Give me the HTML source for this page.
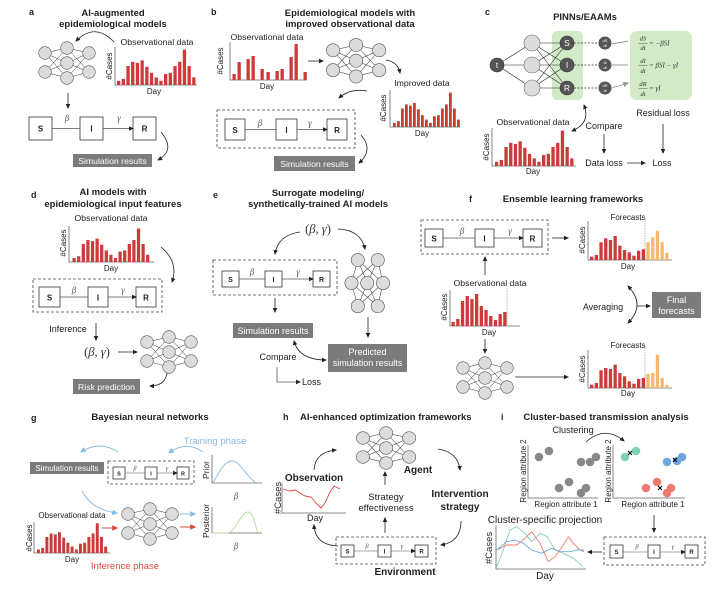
<!DOCTYPE html>
<html><head><meta charset="utf-8"><style>
html,body{margin:0;padding:0;background:#fff}
svg{display:block}
text{font-family:"Liberation Sans",Arial,sans-serif;fill:#222}
.t{font-size:9.5px;font-weight:bold;text-anchor:middle}
.l{font-size:9px;font-weight:bold}
.n{font-size:8.7px}
.m{text-anchor:middle}
.s{font-size:8px}
.g{fill:#fff;font-size:8.7px;text-anchor:middle}
.ax{stroke:#666;stroke-width:.8;fill:none}
.ar{stroke:#222;stroke-width:.8;fill:none;marker-end:url(#ah)}
.ar2{stroke:#222;stroke-width:.8;fill:none;marker-end:url(#ah);marker-start:url(#ah)}
.la{stroke:#555;stroke-width:.8;fill:none;marker-end:url(#ah)}
.bx{fill:#fff;stroke:#333;stroke-width:.8}
.db{fill:none;stroke:#444;stroke-width:.8;stroke-dasharray:3 2}
.gb{fill:#7b7b7b}
.sir{font-size:8px;font-weight:bold;text-anchor:middle}
.gr{font-family:"Liberation Serif",serif;font-style:italic;font-size:9px;fill:#555;text-anchor:middle}
.eq{font-family:"Liberation Serif",serif;font-style:italic;font-size:6.5px;fill:#333}
.b{font-weight:bold}
</style></head><body>
<svg width="719" height="592" viewBox="0 0 719 592" xmlns="http://www.w3.org/2000/svg">
<defs>
<marker id="ah" viewBox="0 0 10 10" refX="8" refY="5" markerWidth="5" markerHeight="5" markerUnits="userSpaceOnUse" orient="auto-start-reverse"><path d="M0,0.5 L10,5 L0,9.5 z" fill="#222"/></marker>
<marker id="ahb" viewBox="0 0 10 10" refX="8" refY="5" markerWidth="6" markerHeight="6" markerUnits="userSpaceOnUse" orient="auto"><path d="M0,0.5 L10,5 L0,9.5 z" fill="#8bbbe0"/></marker>
<marker id="ahr" viewBox="0 0 10 10" refX="8" refY="5" markerWidth="6" markerHeight="6" markerUnits="userSpaceOnUse" orient="auto"><path d="M0,0.5 L10,5 L0,9.5 z" fill="#d9463f"/></marker>
<marker id="ahg" viewBox="0 0 10 10" refX="8" refY="5" markerWidth="6" markerHeight="6" markerUnits="userSpaceOnUse" orient="auto"><path d="M0,0.5 L10,5 L0,9.5 z" fill="#999"/></marker>
<g id="bA" fill="#cc3a3a">
<rect x="0" y="-.11" width=".7" height=".11"/><rect x="1" y="-.16" width=".7" height=".16"/><rect x="2" y="-.5" width=".7" height=".5"/><rect x="3" y="-.61" width=".7" height=".61"/><rect x="4" y="-.58" width=".7" height=".58"/><rect x="5" y="-.65" width=".7" height=".65"/><rect x="6" y="-.48" width=".7" height=".48"/><rect x="7" y="-.32" width=".7" height=".32"/><rect x="8" y="-.2" width=".7" height=".2"/><rect x="9" y="-.11" width=".7" height=".11"/><rect x="10" y="-.29" width=".7" height=".29"/><rect x="11" y="-.32" width=".7" height=".32"/><rect x="12" y="-.5" width=".7" height=".5"/><rect x="13" y="-.61" width=".7" height=".61"/><rect x="14" y="-.93" width=".7" height=".93"/><rect x="15" y="-.5" width=".7" height=".5"/><rect x="16" y="-.2" width=".7" height=".2"/>
</g>
<g id="nn">
<path d="M0,5L22,0M0,5L22,15M0,5L22,30M0,24L22,0M0,24L22,15M0,24L22,30M22,0L44,5M22,0L44,24M22,15L44,5M22,15L44,24M22,30L44,5M22,30L44,24" stroke="#333" stroke-width=".5" fill="none"/>
<g fill="#dcdcdc" stroke="#555" stroke-width=".6">
<circle cx="0" cy="5" r="6.3"/><circle cx="0" cy="24" r="6.3"/><circle cx="22" cy="0" r="6.3"/><circle cx="22" cy="15" r="6.3"/><circle cx="22" cy="30" r="6.3"/><circle cx="44" cy="5" r="6.3"/><circle cx="44" cy="24" r="6.3"/>
</g></g>
</defs>

<!-- ===== Panel a ===== -->
<text x="29" y="15" class="l">a</text>
<text x="113" y="16" class="t">AI-augmented</text>
<text x="113" y="27" class="t">epidemiological models</text>
<path class="ar" d="M114,42 Q95,22 76,41"/>
<text x="157" y="45" class="n m">Observational data</text>
<use href="#nn" transform="translate(45,48)"/>
<path class="ax" d="M115,47 V85 H197"/>
<use href="#bA" transform="translate(117,85) scale(4.7,38)"/>
<text transform="translate(112,66) rotate(-90)" class="s m">#Cases</text>
<text x="154" y="94" class="s m">Day</text>
<path class="ar" d="M68,93 V108"/>
<rect class="bx" x="29" y="117" width="23" height="23"/><text x="40.5" y="131.5" class="sir">S</text>
<rect class="bx" x="80" y="117" width="23" height="23"/><text x="91.5" y="131.5" class="sir">I</text>
<rect class="bx" x="133" y="117" width="23" height="23"/><text x="144.5" y="131.5" class="sir">R</text>
<path class="la" d="M52,128.5 H80 M103,128.5 H133"/>
<text x="67" y="121" class="gr">β</text><text x="119" y="121" class="gr">γ</text>
<path class="ar" d="M161,132 Q176,150 158,160"/>
<rect class="gb" x="73" y="154" width="79" height="13"/>
<text x="112.5" y="164" class="g">Simulation results</text>

<!-- ===== Panel b ===== -->
<text x="211" y="15" class="l">b</text>
<text x="350" y="16" class="t">Epidemiological models with</text>
<text x="350" y="27" class="t">improved observational data</text>
<text x="267" y="40" class="n m">Observational data</text>
<path class="ax" d="M230,42 V80 H307"/>
<g fill="#cc3a3a">
<rect x="232.5" y="74" width="3.3" height="6"/><rect x="237.5" y="62" width="3.3" height="18"/><rect x="246.5" y="59" width="3.3" height="21"/><rect x="251.5" y="56" width="3.3" height="24"/><rect x="260.5" y="69" width="3.3" height="11"/><rect x="266.5" y="72" width="3.3" height="8"/><rect x="275.5" y="71" width="3.3" height="9"/><rect x="280.5" y="69" width="3.3" height="11"/><rect x="289.5" y="57" width="3.3" height="23"/><rect x="294.5" y="44" width="3.3" height="36"/><rect x="303.5" y="72" width="3.3" height="8"/>
</g>
<text transform="translate(223,61) rotate(-90)" class="s m">#Cases</text>
<text x="267" y="89" class="s m">Day</text>
<path class="ar" d="M308,61 H323"/>
<use href="#nn" transform="translate(333,45) scale(1.05)"/>
<path class="ar" d="M386,60 Q398,62 400,73"/>
<text x="422" y="86" class="n m">Improved data</text>
<path class="ax" d="M390,90 V127 H460"/>
<use href="#bA" transform="translate(393,127) scale(4,37)"/>
<text transform="translate(386,108) rotate(-90)" class="s m">#Cases</text>
<text x="422" y="136" class="s m">Day</text>
<path class="ar" d="M367,91 Q350,88 339,98"/>
<rect class="db" x="217" y="110" width="138" height="38"/>
<rect class="bx" x="225" y="119" width="20" height="21"/><text x="235" y="133" class="sir">S</text>
<rect class="bx" x="276" y="119" width="21" height="21"/><text x="286.5" y="133" class="sir">I</text>
<rect class="bx" x="327" y="119" width="20" height="21"/><text x="337" y="133" class="sir">R</text>
<path class="la" d="M245,129.5 H276 M297,129.5 H327"/>
<text x="260" y="126" class="gr">β</text><text x="310" y="126" class="gr">γ</text>
<path class="ar" d="M361,135 Q374,150 359,163"/>
<rect class="gb" x="274" y="156" width="81" height="15"/>
<text x="314.5" y="167" class="g">Simulation results</text>

<!-- ===== Panel c ===== -->
<text x="485" y="15" class="l">c</text>
<text x="585" y="20" class="t">PINNs/EAAMs</text>
<rect x="552" y="31" width="31" height="69" rx="5" fill="#d2eac6"/>
<rect x="630" y="31" width="62" height="69" rx="7" fill="#d2eac6"/>
<path d="M497,65L532,43M497,65L532,65M497,65L532,88M532,43L567,43M532,43L567,65M532,43L567,88M532,65L567,43M532,65L567,65M532,65L567,88M532,88L567,43M532,88L567,65M532,88L567,88" stroke="#222" stroke-width=".6" fill="none"/>
<circle cx="497" cy="65" r="7" fill="#555" stroke="#333" stroke-width=".6"/>
<text x="497" y="68" class="m" style="fill:#fff;font-size:8px">t</text>
<g fill="#dcdcdc" stroke="#666" stroke-width=".6"><circle cx="532" cy="43" r="8"/><circle cx="532" cy="65" r="8"/><circle cx="532" cy="88" r="8"/></g>
<g fill="#555" stroke="#333" stroke-width=".6"><circle cx="567" cy="43" r="7"/><circle cx="567" cy="65" r="7"/><circle cx="567" cy="88" r="7"/></g>
<text x="567" y="46" class="m" style="fill:#fff;font-size:8.5px">S</text>
<text x="567" y="68" class="m" style="fill:#fff;font-size:8.5px">I</text>
<text x="567" y="91" class="m" style="fill:#fff;font-size:8.5px">R</text>
<path d="M574,43 H598 M574,65 H598 M574,88 H598" stroke="#333" stroke-width=".8" stroke-dasharray="2 1.5"/>
<g fill="#555"><circle cx="605" cy="43" r="6.5"/><circle cx="605" cy="65" r="6.5"/><circle cx="605" cy="88" r="6.5"/></g>
<g style="font-size:4px" class="m">
<text x="605" y="42" style="fill:#fff;font-size:4px" text-anchor="middle">dS</text><text x="605" y="47" style="fill:#fff;font-size:4px" text-anchor="middle">dt</text>
<text x="605" y="64" style="fill:#fff;font-size:4px" text-anchor="middle">dI</text><text x="605" y="69" style="fill:#fff;font-size:4px" text-anchor="middle">dt</text>
<text x="605" y="87" style="fill:#fff;font-size:4px" text-anchor="middle">dR</text><text x="605" y="92" style="fill:#fff;font-size:4px" text-anchor="middle">dt</text>
</g>
<path d="M612,44 L628,41 M612,65 L628,65 M612,88 L628,83" stroke="#999" stroke-width=".9" fill="none" marker-end="url(#ahg)"/>
<text x="643" y="40.5" class="eq" text-anchor="middle">dS</text><path d="M638.5,43.5 H647.5" stroke="#333" stroke-width=".4"/><text x="643" y="50" class="eq" text-anchor="middle">dt</text>
<text x="649" y="45.5" class="eq" style="font-size:7px">= −βSI</text>
<text x="643" y="63" class="eq" text-anchor="middle">dI</text><path d="M638.5,65.5 H647.5" stroke="#333" stroke-width=".4"/><text x="643" y="73" class="eq" text-anchor="middle">dt</text>
<text x="649" y="67.5" class="eq" style="font-size:7px">= βSI − γI</text>
<text x="643" y="86" class="eq" text-anchor="middle">dR</text><path d="M638.5,88.5 H647.5" stroke="#333" stroke-width=".4"/><text x="643" y="96" class="eq" text-anchor="middle">dt</text>
<text x="649" y="90.5" class="eq" style="font-size:7px">= γI</text>
<text x="663" y="116" class="n m" style="font-size:9px">Residual loss</text>
<path class="ar2" d="M584,105 Q591,123 572,131"/>
<text x="533" y="125" class="n m">Observational data</text>
<text x="604" y="129" class="n m" style="font-size:9px">Compare</text>
<path class="ar" d="M604,134 V153"/>
<path class="ar" d="M663,124 V153"/>
<path class="ax" d="M492,128 V166 H576"/>
<use href="#bA" transform="translate(495,166) scale(4.7,38)"/>
<text transform="translate(489,147) rotate(-90)" class="s m">#Cases</text>
<text x="533" y="174" class="s m">Day</text>
<text x="604" y="166" class="n m" style="font-size:9px">Data loss</text>
<path class="ar" d="M627,163 H645"/>
<text x="662" y="166" class="n m" style="font-size:9px">Loss</text>

<!-- ===== Panel d ===== -->
<text x="31" y="198" class="l">d</text>
<text x="113" y="195" class="t">AI models with</text>
<text x="113" y="207" class="t">epidemiological input features</text>
<text x="111" y="221" class="n m">Observational data</text>
<path class="ax" d="M69,226 V262 H154"/>
<use href="#bA" transform="translate(72.5,262) scale(4.6,36)"/>
<text transform="translate(66,243) rotate(-90)" class="s m">#Cases</text>
<text x="111" y="271" class="s m">Day</text>
<path class="ar" d="M161,247 Q179,262 172,282"/>
<rect class="db" x="33" y="279" width="129" height="33"/>
<rect class="bx" x="39" y="287" width="21" height="20"/><text x="49.5" y="300.5" class="sir">S</text>
<rect class="bx" x="88" y="287" width="20" height="20"/><text x="98" y="300.5" class="sir">I</text>
<rect class="bx" x="136" y="287" width="20" height="20"/><text x="146" y="300.5" class="sir">R</text>
<path class="la" d="M60,297 H88 M108,297 H136"/>
<text x="74" y="293" class="gr">β</text><text x="123" y="293" class="gr">γ</text>
<text x="68" y="332" class="n m" style="font-size:9px">Inference</text>
<path class="ar" d="M96,323 V340"/>
<text x="97" y="356" class="m" style="font-family:'Liberation Serif',serif;font-size:12.5px;fill:#333">(<tspan font-style="italic">β</tspan>, <tspan font-style="italic">γ</tspan>)</text>
<path class="ar" d="M118,352 H137"/>
<use href="#nn" transform="translate(147,337)"/>
<path class="ar" d="M167,373 Q165,386 150,386"/>
<rect class="gb" x="73" y="379" width="67" height="15"/>
<text x="106.5" y="390" class="g">Risk prediction</text>

<!-- ===== Panel e ===== -->
<text x="213" y="198" class="l">e</text>
<text x="318" y="196" class="t">Surrogate modeling/</text>
<text x="318" y="207" class="t">synthetically-trained AI models</text>
<text x="318" y="233" class="m" style="font-family:'Liberation Serif',serif;font-size:12.5px;fill:#333">(<tspan font-style="italic">β</tspan>, <tspan font-style="italic">γ</tspan>)</text>
<path class="ar" d="M300,232 Q278,235 275,254"/>
<path class="ar" d="M338,229 Q361,230 365,249"/>
<rect class="db" x="213" y="260" width="124" height="35"/>
<rect class="bx" x="222" y="271" width="17" height="16"/><text x="230.5" y="282" class="sir" style="font-size:7px">S</text>
<rect class="bx" x="265" y="271" width="17" height="16"/><text x="273.5" y="282" class="sir" style="font-size:7px">I</text>
<rect class="bx" x="313" y="271" width="17" height="16"/><text x="321.5" y="282" class="sir" style="font-size:7px">R</text>
<path class="la" d="M239,279 H265 M282,279 H313"/>
<text x="252" y="275" class="gr">β</text><text x="298" y="275" class="gr">γ</text>
<use href="#nn" transform="translate(383,260) rotate(90) scale(1.05,1.05)"/>
<path class="ar" d="M275,298 V312"/>
<rect class="gb" x="233" y="323" width="80" height="15"/>
<text x="273" y="334" class="g" style="font-size:9px">Simulation results</text>
<path class="ar" d="M368,317 V337"/>
<rect class="gb" x="328" y="344" width="79" height="28"/>
<text x="367.5" y="355" class="g" style="font-size:9px">Predicted</text>
<text x="367.5" y="366" class="g" style="font-size:9px">simulation results</text>
<path class="ar2" d="M294,341 Q299,360 326,360"/>
<text x="278" y="360" class="n m" style="font-size:9px">Compare</text>
<path class="ar" d="M277,367 V382 H300" style="stroke:#555"/>
<text x="302" y="385" class="n" style="font-size:9px">Loss</text>

<!-- ===== Panel f ===== -->
<text x="469" y="202" class="l">f</text>
<text x="573" y="202" class="t">Ensemble learning frameworks</text>
<rect class="db" x="421" y="220" width="127" height="34"/>
<rect class="bx" x="425" y="229" width="18" height="18"/><text x="434" y="241.5" class="sir">S</text>
<rect class="bx" x="475" y="229" width="19" height="18"/><text x="484.5" y="241.5" class="sir">I</text>
<rect class="bx" x="523" y="229" width="19" height="18"/><text x="532.5" y="241.5" class="sir">R</text>
<path class="la" d="M443,238 H475 M494,238 H523"/>
<text x="462" y="234" class="gr">β</text><text x="510" y="234" class="gr">γ</text>
<path class="ar" d="M552,238 H568"/>
<text x="628" y="220" class="s m">Forecasts</text>
<path class="ax" d="M588,221 V260 H672"/>
<path d="M645,218 V260" stroke="#999" stroke-width=".7" stroke-dasharray="1.5 1"/>
<g fill="#cc3a3a">
<rect x="590" y="256.7" width="3.3" height="3.3"/><rect x="594.7" y="255" width="3.3" height="5"/><rect x="599.4" y="242.3" width="3.3" height="17.7"/><rect x="604.1" y="238.3" width="3.3" height="21.7"/><rect x="608.8" y="240" width="3.3" height="20"/><rect x="613.5" y="236" width="3.3" height="24"/><rect x="618.2" y="245.7" width="3.3" height="14.3"/><rect x="622.9" y="250" width="3.3" height="10"/><rect x="627.6" y="252.3" width="3.3" height="7.7"/><rect x="632.3" y="255.7" width="3.3" height="4.3"/><rect x="637" y="250.7" width="3.3" height="9.3"/><rect x="641.7" y="249.3" width="3.3" height="10.7"/>
</g>
<g fill="#f6b96b">
<rect x="646.4" y="242.3" width="3.3" height="17.7"/><rect x="651.1" y="237.3" width="3.3" height="22.7"/><rect x="655.8" y="230.7" width="3.3" height="29.3"/><rect x="660.5" y="242.3" width="3.3" height="17.7"/><rect x="665.2" y="252.7" width="3.3" height="7.3"/>
</g>
<text transform="translate(585,240) rotate(-90)" class="s m">#Cases</text>
<text x="628" y="269" class="s m">Day</text>
<path class="ar" d="M485,275 V257"/>
<text x="490" y="286" class="n m">Observational data</text>
<path class="ax" d="M450,290 V326 H520"/>
<path d="M507,288 V326" stroke="#999" stroke-width=".7" stroke-dasharray="1.5 1"/>
<g fill="#cc3a3a">
<rect x="451.5" y="322" width="3.3" height="4"/><rect x="456.2" y="319" width="3.3" height="7"/><rect x="460.9" y="301" width="3.3" height="25"/><rect x="465.6" y="296" width="3.3" height="30"/><rect x="470.3" y="299" width="3.3" height="27"/><rect x="475" y="294" width="3.3" height="32"/><rect x="479.7" y="306" width="3.3" height="20"/><rect x="484.4" y="310" width="3.3" height="16"/><rect x="489.1" y="316" width="3.3" height="10"/><rect x="493.8" y="320" width="3.3" height="6"/><rect x="498.5" y="314" width="3.3" height="12"/><rect x="503.2" y="312" width="3.3" height="14"/>
</g>
<text transform="translate(447,307) rotate(-90)" class="s m">#Cases</text>
<text x="489" y="335" class="s m">Day</text>
<path class="ar" d="M485,339 V353"/>
<use href="#nn" transform="translate(463,363)"/>
<path class="ar" d="M515,377 H568"/>
<text x="628" y="348" class="s m">Forecasts</text>
<path class="ax" d="M588,350 V388 H672"/>
<path d="M645,347 V388" stroke="#999" stroke-width=".7" stroke-dasharray="1.5 1"/>
<g fill="#cc3a3a">
<rect x="590" y="384.7" width="3.3" height="3.3"/><rect x="594.7" y="383" width="3.3" height="5"/><rect x="599.4" y="370.3" width="3.3" height="17.7"/><rect x="604.1" y="368" width="3.3" height="20"/><rect x="608.8" y="369" width="3.3" height="19"/><rect x="613.5" y="364.7" width="3.3" height="23.3"/><rect x="618.2" y="373" width="3.3" height="15"/><rect x="622.9" y="376.3" width="3.3" height="11.7"/><rect x="627.6" y="381.3" width="3.3" height="6.7"/><rect x="632.3" y="383.7" width="3.3" height="4.3"/><rect x="637" y="379" width="3.3" height="9"/><rect x="641.7" y="378" width="3.3" height="10"/>
</g>
<g fill="#f6b96b">
<rect x="646.4" y="373.7" width="3.3" height="14.3"/><rect x="651.1" y="373" width="3.3" height="15"/><rect x="655.8" y="354.7" width="3.3" height="33.3"/><rect x="660.5" y="378" width="3.3" height="10"/><rect x="665.2" y="384.7" width="3.3" height="3.3"/>
</g>
<text transform="translate(585,369) rotate(-90)" class="s m">#Cases</text>
<text x="628" y="396" class="s m">Day</text>
<text x="603" y="310" class="n m" style="font-size:9px">Averaging</text>
<path class="ar2" d="M628,286 Q646,305 628,323"/>
<path class="ar" d="M637,306 H650"/>
<rect class="gb" x="652" y="292" width="49" height="26"/>
<text x="676.5" y="303" class="g" style="font-size:9px">Final</text>
<text x="676.5" y="314" class="g" style="font-size:9px">forecasts</text>

<!-- ===== Panel g ===== -->
<text x="31" y="421" class="l">g</text>
<text x="150" y="420" class="t">Bayesian neural networks</text>
<text x="215" y="444" class="m" style="font-size:9.5px;fill:#89b9dc">Training phase</text>
<path d="M203,452 Q186,440 169,453" stroke="#8bbbe0" stroke-width=".9" fill="none" marker-end="url(#ahb)"/>
<path d="M118,452 Q100,440 81,452" stroke="#8bbbe0" stroke-width=".9" fill="none" marker-end="url(#ahb)"/>
<rect class="gb" x="30" y="462" width="74" height="12"/>
<text x="67" y="471" class="g" style="font-size:8px">Simulation results</text>
<rect class="db" x="108" y="461" width="86" height="23"/>
<rect class="bx" x="113" y="467" width="12" height="12"/><text x="119" y="475.5" class="sir" style="font-size:5.5px">S</text>
<rect class="bx" x="145" y="467" width="12" height="12"/><text x="151" y="475.5" class="sir" style="font-size:5.5px">I</text>
<rect class="bx" x="177" y="467" width="12" height="12"/><text x="183" y="475.5" class="sir" style="font-size:5.5px">R</text>
<path d="M125,473 H145 M157,473 H177" stroke="#555" stroke-width=".6" fill="none" marker-end="url(#ah)"/>
<text x="135" y="470" class="gr" style="font-size:6px">β</text><text x="167" y="470" class="gr" style="font-size:6px">γ</text>
<text transform="translate(209,470) rotate(-90)" class="m" style="font-size:8.5px">Prior</text>
<path class="ax" d="M212,455 V483 H262"/>
<path d="M213,483 C220,470 225,461 232,461 C240,461 246,476 256,483" stroke="#8bbbe0" stroke-width=".9" fill="none"/>
<text x="236" y="499" class="gr" style="font-size:9px">β</text>
<text transform="translate(209,521) rotate(-90)" class="m" style="font-size:8.5px">Posterior</text>
<path class="ax" d="M212,507 V533 H262"/>
<path d="M212,533 L228,533 C236,531 241,512 248,512 C254,512 255,527 258,533" stroke="#b5d99c" stroke-width=".9" fill="none"/>
<text x="236" y="549" class="gr" style="font-size:9px">β</text>
<path d="M82,491 Q92,510 117,513" stroke="#8bbbe0" stroke-width=".9" fill="none" marker-end="url(#ahb)"/>
<use href="#nn" transform="translate(128,509)"/>
<path d="M180,514 H195" stroke="#8bbbe0" stroke-width="1" marker-end="url(#ahb)"/>
<path d="M180,527 H195" stroke="#d9463f" stroke-width="1" marker-end="url(#ahr)"/>
<path d="M102,528 H117" stroke="#d9463f" stroke-width="1" marker-end="url(#ahr)"/>
<text x="72" y="518" class="m" style="font-size:8px">Observational data</text>
<path class="ax" d="M34,522 V553 H110"/>
<use href="#bA" transform="translate(37,553) scale(4.2,32)"/>
<text transform="translate(32,538) rotate(-90)" class="s m">#Cases</text>
<text x="72" y="562" class="s m">Day</text>
<text x="125" y="569" class="m" style="font-size:9.5px;fill:#d9463f">Inference phase</text>

<!-- ===== Panel h ===== -->
<text x="283" y="420" class="l">h</text>
<text x="300" y="420" class="t" text-anchor="start" style="text-anchor:start">AI-enhanced optimization frameworks</text>
<use href="#nn" transform="translate(363,433) scale(1.05,1)"/>
<text x="418" y="473" class="m b" style="font-size:10px">Agent</text>
<path class="ar" d="M385,485 V472"/>
<text x="386" y="500" class="n m" style="font-size:9.5px">Strategy</text>
<text x="386" y="511" class="n m" style="font-size:9.5px">effectiveness</text>
<path class="ar" d="M385,533 V518"/>
<text x="314" y="481" class="m b" style="font-size:10px">Observation</text>
<path class="ar" d="M314,470 Q315,452 336,450"/>
<path class="ax" d="M282,483 V513 H346"/>
<polyline points="283,489 290,491 295,490 300,493 305,496 311,497 316,503 321,508 325,503 330,492 334,486 340,489" fill="none" stroke="#d9463f" stroke-width=".9" stroke-linejoin="round"/>
<text transform="translate(281,498) rotate(-90)" class="m" style="font-size:9.5px">#Cases</text>
<text x="315" y="521" class="m" style="font-size:9px">Day</text>
<path class="ar" d="M338,546 Q315,545 314,525"/>
<rect class="db" x="336" y="537" width="100" height="27"/>
<rect class="bx" x="341" y="545" width="13" height="12"/><text x="347.5" y="553.5" class="sir" style="font-size:6px">S</text>
<rect class="bx" x="378" y="545" width="13" height="12"/><text x="384.5" y="553.5" class="sir" style="font-size:6px">I</text>
<rect class="bx" x="415" y="545" width="13" height="12"/><text x="421.5" y="553.5" class="sir" style="font-size:6px">R</text>
<path d="M354,551 H378 M391,551 H415" stroke="#555" stroke-width=".6" fill="none" marker-end="url(#ah)"/>
<text x="367" y="548" class="gr" style="font-size:6.5px">β</text><text x="402" y="548" class="gr" style="font-size:6.5px">γ</text>
<text x="405" y="575" class="m b" style="font-size:10px">Environment</text>
<path class="ar" d="M438,449 Q458,452 460,470"/>
<text x="460" y="497" class="m b" style="font-size:10px">Intervention</text>
<text x="460" y="510" class="m b" style="font-size:10px">strategy</text>
<path class="ar" d="M461,521 Q461,542 441,545"/>

<!-- ===== Panel i ===== -->
<text x="501" y="420" class="l">i</text>
<text x="606" y="420" class="t">Cluster-based transmission analysis</text>
<text x="573" y="433" class="m" style="font-size:9.2px">Clustering</text>
<path class="ar" d="M586,442 Q605,425 624,441"/>
<path class="ax" d="M528,445 V498 H598"/>
<g fill="#888"><circle cx="539" cy="457" r="4.3"/><circle cx="549" cy="451" r="4.3"/><circle cx="559" cy="488" r="4.3"/><circle cx="569" cy="482" r="4.3"/><circle cx="581" cy="493" r="4.3"/><circle cx="586" cy="488" r="4.3"/><circle cx="581" cy="462" r="4.3"/><circle cx="590" cy="462" r="4.3"/><circle cx="596" cy="457" r="4.3"/></g>
<text transform="translate(526,471) rotate(-90)" class="s m">Region attribute 2</text>
<text x="566" y="507" class="s m">Region attribute 1</text>
<path class="ax" d="M613,445 V498 H685"/>
<g fill="#80d0bb"><circle cx="625" cy="457" r="4.3"/><circle cx="636" cy="451" r="4.3"/></g>
<g fill="#6fa8dc"><circle cx="667" cy="462" r="4.3"/><circle cx="677" cy="461" r="4.3"/><circle cx="682" cy="457" r="4.3"/></g>
<g fill="#f07a6f"><circle cx="646" cy="488" r="4.3"/><circle cx="657" cy="482" r="4.3"/><circle cx="667" cy="493" r="4.3"/><circle cx="671" cy="488" r="4.3"/></g>
<path d="M628,451 l4,4 m0,-4 l-4,4 M673,458 l4,4 m0,-4 l-4,4 M658,486 l4,4 m0,-4 l-4,4" stroke="#111" stroke-width="1.2"/>
<text transform="translate(611,471) rotate(-90)" class="s m">Region attribute 2</text>
<text x="653" y="507" class="s m">Region attribute 1</text>
<path class="ar" d="M654,515 V532"/>
<rect class="db" x="604" y="537" width="101" height="28"/>
<rect class="bx" x="610" y="545" width="13" height="13"/><text x="616.5" y="554" class="sir" style="font-size:6px">S</text>
<rect class="bx" x="648" y="545" width="12" height="13"/><text x="654" y="554" class="sir" style="font-size:6px">I</text>
<rect class="bx" x="685" y="545" width="13" height="13"/><text x="691.5" y="554" class="sir" style="font-size:6px">R</text>
<path d="M623,552 H648 M660,552 H685" stroke="#555" stroke-width=".6" fill="none" marker-end="url(#ah)"/>
<text x="637" y="548.5" class="gr" style="font-size:6.5px">β</text><text x="673" y="548.5" class="gr" style="font-size:6.5px">γ</text>
<path class="ar" d="M602,552 H588"/>
<text x="545" y="523" class="m" style="font-size:10px">Cluster-specific projection</text>
<path class="ax" d="M496,525 V569 H586"/>
<polyline points="496.7,566.7 503.3,550 510,530 516.7,526.7 525,533.3 531.7,541.7 540,533.3 547.3,536.7 555,550 563.3,553.3 573.3,558.3 583.3,566.7" fill="none" stroke="#80d0bb" stroke-width=".9" stroke-linejoin="round"/>
<polyline points="496.7,550 506.7,545 516.7,545 525,538.3 531.7,531.7 540,543.3 548.3,561.7 555,556.7 563.3,545 568.3,536.7 573.3,543.3 580,550 584,551.7" fill="none" stroke="#f07a6f" stroke-width=".9" stroke-linejoin="round"/>
<polyline points="496.7,550 506.7,541.7 515,540 523.3,543.3 531.7,550 541.7,553.3 551.7,548.3 560,551.7 570,551.7 576.7,550 584,550" fill="none" stroke="#6fa8dc" stroke-width=".9" stroke-linejoin="round"/>
<text transform="translate(492,548) rotate(-90)" class="m" style="font-size:9.5px">#Cases</text>
<text x="545" y="579" class="m" style="font-size:10px">Day</text>
</svg>
</body></html>
